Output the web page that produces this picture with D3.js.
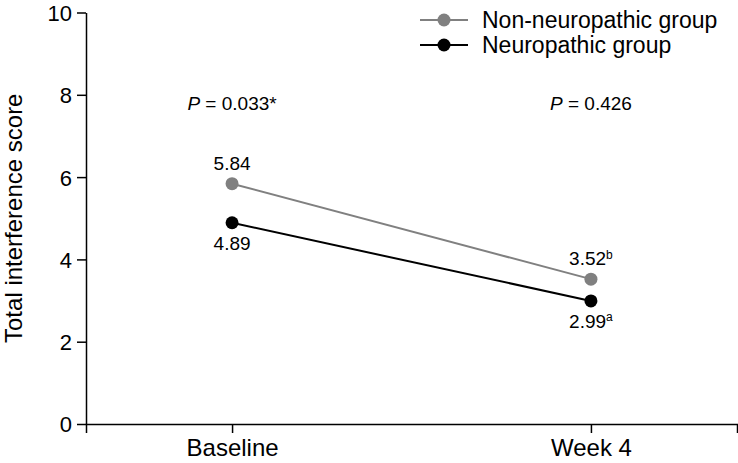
<!DOCTYPE html>
<html>
<head>
<meta charset="utf-8">
<script src="https://cdn.jsdelivr.net/npm/d3@7"></script>
<style>
    body { margin: 0; background: #fff; }
    text { font-family: "Liberation Sans", Arial, sans-serif; }
</style>
</head>
<body>
<svg id="chart" width="738" height="463"></svg>
<script>
const timepoints = ["Baseline", "Week 4"];
const nonNeuropathic = [5.84, 3.52];
const neuropathic = [4.89, 2.99];
const nonNeuroSup = ["", "b"];
const neuroSup = ["", "a"];
const pValues = ["0.033*", "0.426"];
const yTicks = [0, 2, 4, 6, 8, 10];

const series = [
    {name: "Non-neuropathic group", values: nonNeuropathic, sup: nonNeuroSup, color: "#808080", labelBelow: false},
    {name: "Neuropathic group", values: neuropathic, sup: neuroSup, color: "#000000", labelBelow: true}
];

const svg = d3.select("#chart");

const x = d3.scalePoint().domain(timepoints).range([86, 737]).padding(0.407);
const y = d3.scaleLinear().domain([0, 10]).range([424, 12.5]);

// axes
const xAxis = svg.append("g")
    .attr("transform", "translate(0," + y(0) + ")")
    .call(d3.axisBottom(x).tickSize(9).tickSizeOuter(9).tickPadding(6));
xAxis.selectAll("text").style("font-size", "24px").attr("fill", "#000");

const yAxis = svg.append("g")
    .attr("transform", "translate(" + x.range()[0] + ",0)")
    .call(d3.axisLeft(y).tickValues(yTicks).tickSize(9).tickSizeOuter(0).tickPadding(5));
yAxis.selectAll("text").style("font-size", "22px").attr("fill", "#000").attr("dy", "0.36em");

[xAxis, yAxis].forEach(a => {
    a.select(".domain").attr("stroke", "#000").attr("stroke-width", 1.5);
    a.selectAll(".tick line").attr("stroke", "#000").attr("stroke-width", 1.5);
});

svg.append("text")
    .attr("transform", "translate(22," + ((y(0) + y(10)) / 2) + ") rotate(-90)")
    .attr("text-anchor", "middle")
    .style("font-size", "24px")
    .text("Total interference score");

// P values
svg.append("g").selectAll("text")
    .data(timepoints)
    .join("text")
    .attr("x", d => x(d))
    .attr("y", 110)
    .attr("text-anchor", "middle")
    .style("font-size", "19px")
    .each(function (d, i) {
        const t = d3.select(this);
        t.append("tspan").style("font-style", "italic").text("P");
        t.append("tspan").text(" = " + pValues[i]);
    });

// lines + points
const line = d3.line().x((d, i) => x(timepoints[i])).y(d => y(d));

series.forEach(s => {
    svg.append("path")
        .datum(s.values)
        .attr("d", line)
        .attr("fill", "none")
        .attr("stroke", s.color)
        .attr("stroke-width", 2);

    svg.append("g").selectAll("circle")
        .data(s.values)
        .join("circle")
        .attr("cx", (d, i) => x(timepoints[i]))
        .attr("cy", d => y(d))
        .attr("r", 6.5)
        .attr("fill", s.color);

    svg.append("g").selectAll("text")
        .data(s.values)
        .join("text")
        .attr("x", (d, i) => x(timepoints[i]))
        .attr("y", d => s.labelBelow ? y(d) + 27 : y(d) - 14)
        .attr("text-anchor", "middle")
        .style("font-size", "19px")
        .each(function (d, i) {
            const t = d3.select(this);
            t.append("tspan").text(d.toFixed(2));
            if (s.sup[i]) {
                t.append("tspan").attr("dy", "-0.55em").style("font-size", "12px").text(s.sup[i]);
            }
        });
});

// legend
const legend = svg.append("g").selectAll("g")
    .data(series)
    .join("g")
    .attr("transform", (d, i) => "translate(420," + (20 + i * 25) + ")");

legend.append("line")
    .attr("x1", 0).attr("x2", 48)
    .attr("stroke", d => d.color)
    .attr("stroke-width", 2);

legend.append("circle")
    .attr("cx", 24)
    .attr("r", 6.5)
    .attr("fill", d => d.color);

legend.append("text")
    .attr("x", 62)
    .attr("dy", "0.34em")
    .style("font-size", "23px")
    .text(d => d.name);
</script>
</body>
</html>
